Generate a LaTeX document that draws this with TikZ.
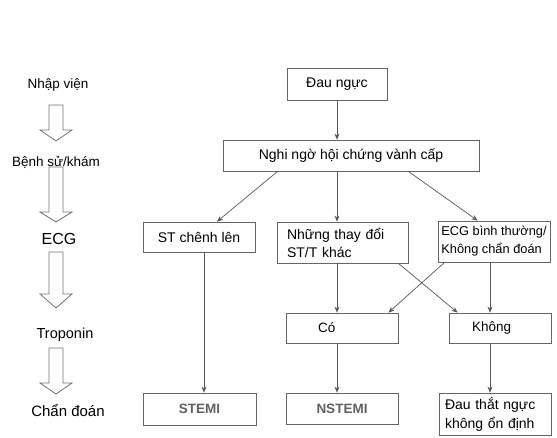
\documentclass[tikz,border=0pt]{standalone}
\usepackage{fontspec}
\setmainfont{Liberation Sans}
\usetikzlibrary{arrows.meta,calc}
\tikzset{
  box/.style={draw=black!60, line width=0.8pt, fill=white, inner sep=0pt, font=\fontsize{14}{18}\selectfont, text=black},
  conn/.style={draw=black!65, line width=0.7pt, -{Stealth[length=6pt,width=5pt]}},
  hollow/.style={draw=black!55, line width=0.8pt, fill=white},
  stagelbl/.style={font=\fontsize{14}{16}\selectfont, text=black, inner sep=1pt},
  dxbox/.style={box, font=\fontsize{13.5}{16}\selectfont\bfseries, text=black!62}
}
\begin{document}
\begin{tikzpicture}[x=1pt,y=-1pt]
\useasboundingbox (0,0) rectangle (557,438);
\fill[white] (0,0) rectangle (557,438);

% stage labels
\node[stagelbl, font=\fontsize{13.5}{15}\selectfont] (s1) at (58,85) {Nhập viện};
\node[stagelbl, font=\fontsize{13.5}{15}\selectfont] (s2) at (56,162) {Bệnh sử/khám};
\node[stagelbl, font=\fontsize{16}{18}\selectfont] (s3) at (59,239) {ECG};
\node[stagelbl, font=\fontsize{14.5}{16}\selectfont] (s4) at (65,335) {Troponin};
\node[stagelbl, font=\fontsize{15}{17}\selectfont] (s5) at (68,411) {Chẩn đoán};

% hollow arrows
\foreach \t/\h/\e in {105/130/141, 167/212/222, 252/294/308, 348/383/394}{
  \draw[hollow] (49,\t) -- (63,\t) -- (63,\h) -- (72,\h) -- (56,\e) -- (40,\h) -- (49,\h) -- cycle;
}

% boxes
\node[box, minimum width=100pt, minimum height=32pt] (dau) at (337,84) {Đau ngực};
\node[box, minimum width=256pt, minimum height=31pt] (nghi) at (351,155.5) {Nghi ngờ hội chứng vành cấp};
\node[box, minimum width=112pt, minimum height=30pt] (st) at (199,237) {ST chênh lên};
\node[box, minimum height=41pt, inner xsep=10pt, text width=111pt, align=left] (nhung) at (342.5,242.5) {Những thay đổi\\ST/T khác};
\node[box, minimum width=112pt, minimum height=41pt, align=left, font=\fontsize{12.8}{18}\selectfont] (ecg) at (494,241.5) {ECG bình thường/\\Không chẩn đoán};
\node[box, minimum height=30pt, inner xsep=32pt, text width=48pt, align=left, font=\fontsize{13.5}{16}\selectfont] (co) at (342,328) {Có};
\node[box, minimum height=30pt, inner xsep=23pt, text width=56pt, align=left, font=\fontsize{13.5}{16}\selectfont] (khong) at (500,328) {Không};
\node[dxbox, minimum width=113pt, minimum height=32pt] (stemi) at (199.5,409) {STEMI};
\node[dxbox, minimum width=112pt, minimum height=31pt] (nstemi) at (342,408.5) {NSTEMI};
\node[box, minimum height=42pt, inner xsep=6pt, text width=100pt, align=left, font=\fontsize{14}{19}\selectfont] (ua) at (495,414) {Đau thắt ngực\\không ổn định};

% connectors
\draw[conn] (dau.south) -- (nghi.north -| dau.south);
\draw[conn] ($(nghi.south west)+(55,0)$) -- ($(st.north)+(18,0)$);
\draw[conn] (nghi.south -| dau.south) -- (nhung.north -| dau.south);
\draw[conn] ($(nghi.south east)+(-71,0)$) -- ($(ecg.north west)+(40,0)$);
\draw[conn] ($(st.south)+(5,0)$) -- ($(stemi.north)+(4.5,0)$);
\draw[conn] (nhung.south -| dau.south) -- (co.north -| dau.south);
\draw[conn] ($(nhung.south east)+(-10,0)$) -- ($(khong.north west)+(9,0)$);
\draw[conn] ($(ecg.south west)+(7,0)$) -- ($(co.north east)+(-10,0)$);
\draw[conn] ($(ecg.south)+(-4,0)$) -- ($(khong.north)+(-10,0)$);
\draw[conn] (co.south -| dau.south) -- (nstemi.north -| dau.south);
\draw[conn] ($(khong.south)+(-10,0)$) -- ($(ua.north)+(-5,0)$);
\end{tikzpicture}
\end{document}
